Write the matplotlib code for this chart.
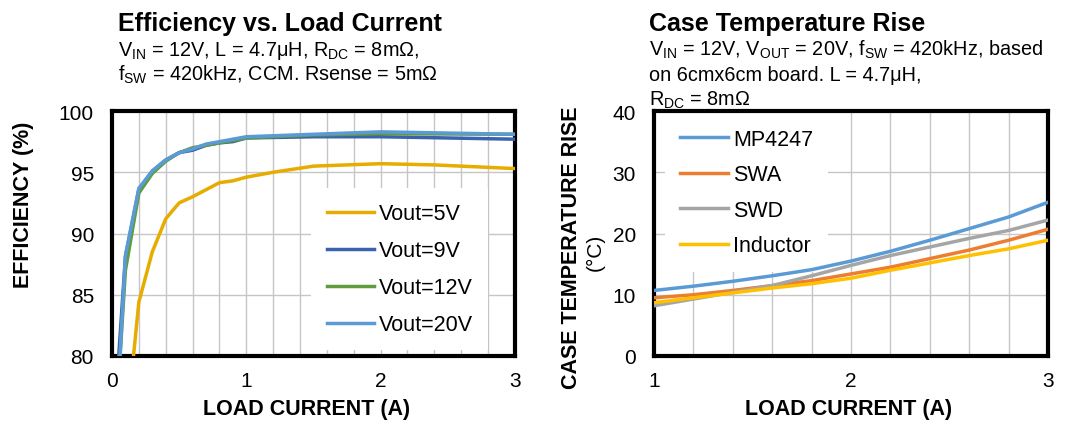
import matplotlib
matplotlib.use("Agg")
import matplotlib.pyplot as plt
from matplotlib.ticker import MultipleLocator

plt.rcParams['font.family'] = ['Liberation Sans', 'DejaVu Sans']
plt.rcParams['mathtext.fontset'] = 'custom'
plt.rcParams['mathtext.rm'] = 'Liberation Sans'

# --- Efficiency vs. load current ---
i_5v = [0.16, 0.2, 0.3, 0.4, 0.5, 0.6, 0.8, 0.9, 1.0, 1.2, 1.5, 2.0, 2.4, 3.0]
eff_5v = [80.0, 84.4, 88.5, 91.2, 92.5, 93.0, 94.15, 94.3, 94.6, 95.0, 95.5, 95.7, 95.6, 95.3]

i_9v = [0.05, 0.1, 0.2, 0.3, 0.4, 0.5, 0.6, 0.7, 0.8, 0.9, 1.0, 1.5, 2.0, 3.0]
eff_9v = [80.0, 88.1, 93.6, 95.1, 96.0, 96.6, 96.8, 97.2, 97.4, 97.5, 97.8, 97.9, 97.9, 97.7]

i_12v = [0.06, 0.1, 0.2, 0.3, 0.4, 0.5, 0.6, 0.8, 1.0, 1.5, 2.0, 3.0]
eff_12v = [80.0, 87.0, 93.3, 94.9, 95.9, 96.6, 97.0, 97.4, 97.8, 98.05, 98.15, 98.1]

i_20v = [0.06, 0.1, 0.2, 0.3, 0.4, 0.5, 0.6, 0.7, 0.8, 0.9, 1.0, 1.5, 2.0, 3.0]
eff_20v = [80.0, 88.2, 93.7, 95.1, 96.0, 96.6, 96.9, 97.3, 97.5, 97.7, 97.9, 98.1, 98.3, 98.1]

# --- Case temperature rise ---
i_temp = [1.0, 1.2, 1.4, 1.6, 1.8, 2.0, 2.2, 2.4, 2.6, 2.8, 3.0]
t_mp4247 = [10.7, 11.4, 12.2, 13.1, 14.1, 15.5, 17.1, 18.9, 20.8, 22.7, 25.1]
t_swa = [9.5, 10.0, 10.7, 11.5, 12.3, 13.4, 14.5, 15.9, 17.3, 18.9, 20.7]
t_swd = [8.2, 9.3, 10.4, 11.5, 13.1, 14.8, 16.4, 17.8, 19.2, 20.5, 22.2]
t_inductor = [8.7, 9.5, 10.3, 11.1, 11.8, 12.7, 14.0, 15.2, 16.4, 17.5, 18.9]

fig = plt.figure(figsize=(10.8, 4.31), dpi=100)
ax1 = fig.add_axes([0.1037, 0.1717, 0.3731, 0.5684])
ax2 = fig.add_axes([0.6056, 0.1717, 0.3648, 0.5684])

lw = 2.5
grid_col = '#c6c6c6'


def style_axes(ax):
    ax.grid(True, which='both', color=grid_col, linewidth=1.0, zorder=0.5)
    ax.set_axisbelow(True)
    for s in ax.spines.values():
        s.set_linewidth(3.0)
        s.set_color('black')
    ax.tick_params(which='both', length=0, labelsize=15)
    ax.tick_params(axis='x', pad=11)
    ax.tick_params(axis='y', pad=13)


def white_legend(ax, anchor, spacing):
    leg = ax.legend(loc='upper left', bbox_to_anchor=anchor, frameon=True,
                    fontsize=15.5, handlelength=2.2, handletextpad=0.25,
                    labelspacing=spacing, borderaxespad=0, borderpad=0.7)
    fr = leg.get_frame()
    fr.set_edgecolor('none')
    fr.set_facecolor('white')
    fr.set_alpha(1)
    fr.set_boxstyle('square', pad=0)
    # keep the box over the grid but under the curves
    leg.set_zorder(1.5)
    return leg


ax1.plot(i_5v, eff_5v, color='#e6ac00', lw=lw, label='Vout=5V', zorder=3)
ax1.plot(i_9v, eff_9v, color='#3b62ad', lw=lw, label='Vout=9V', zorder=3)
ax1.plot(i_12v, eff_12v, color='#5f9c3c', lw=lw, label='Vout=12V', zorder=3)
ax1.plot(i_20v, eff_20v, color='#5b9bd5', lw=lw, label='Vout=20V', zorder=3)
ax1.set_xlim(0, 3)
ax1.set_ylim(80, 100)
ax1.xaxis.set_major_locator(MultipleLocator(1))
ax1.xaxis.set_minor_locator(MultipleLocator(0.2))
ax1.yaxis.set_major_locator(MultipleLocator(5))
style_axes(ax1)
white_legend(ax1, (0.495, 0.685), 0.74)

ax2.plot(i_temp, t_mp4247, color='#5b9bd5', lw=lw, label='MP4247', zorder=3)
ax2.plot(i_temp, t_swa, color='#ed7d31', lw=lw, label='SWA', zorder=3)
ax2.plot(i_temp, t_swd, color='#a5a5a5', lw=lw, label='SWD', zorder=3)
ax2.plot(i_temp, t_inductor, color='#ffc000', lw=lw, label='Inductor', zorder=3)
ax2.set_xlim(1, 3)
ax2.set_ylim(0, 40)
ax2.xaxis.set_major_locator(MultipleLocator(1))
ax2.xaxis.set_minor_locator(MultipleLocator(0.2))
ax2.yaxis.set_major_locator(MultipleLocator(10))
style_axes(ax2)
white_legend(ax2, (0.028, 0.99), 0.68)

lab_font = dict(fontsize=15.5, fontweight='bold')
fig.text(0.284, 0.049, 'LOAD CURRENT (A)', ha='center', va='center', **lab_font)
fig.text(0.786, 0.049, 'LOAD CURRENT (A)', ha='center', va='center', **lab_font)
fig.text(0.022, 0.524, 'EFFICIENCY (%)', rotation=90, ha='center', va='center', **lab_font)
fig.text(0.529, 0.425, 'CASE TEMPERATURE RISE', rotation=90, ha='center', va='center', **lab_font)
fig.text(0.551, 0.415, '(°C)', rotation=90, ha='center', va='center', fontsize=15)

# titles and test conditions
sub = dict(fontsize=14.3, ha='left', va='baseline')
fig.text(0.109, 0.928, 'Efficiency vs. Load Current', fontsize=18, fontweight='bold',
         ha='left', va='baseline')
fig.text(0.109, 0.870, r'V$_{\mathregular{IN}}$ = 12V, L = 4.7μH, R$_{\mathregular{DC}}$ = 8mΩ,', **sub)
fig.text(0.109, 0.812, r'f$_{\mathregular{SW}}$ = 420kHz, CCM. Rsense = 5mΩ', **sub)

fig.text(0.601, 0.928, 'Case Temperature Rise', fontsize=18, fontweight='bold',
         ha='left', va='baseline')
fig.text(0.601, 0.870,
         r'V$_{\mathregular{IN}}$ = 12V, V$_{\mathregular{OUT}}$ = 20V, f$_{\mathregular{SW}}$ = 420kHz, based',
         **sub)
fig.text(0.601, 0.812, 'on 6cmx6cm board. L = 4.7μH,', **sub)
fig.text(0.601, 0.754, r'R$_{\mathregular{DC}}$ = 8mΩ', **sub)

fig.savefig('out.png', dpi=100, facecolor='white')
